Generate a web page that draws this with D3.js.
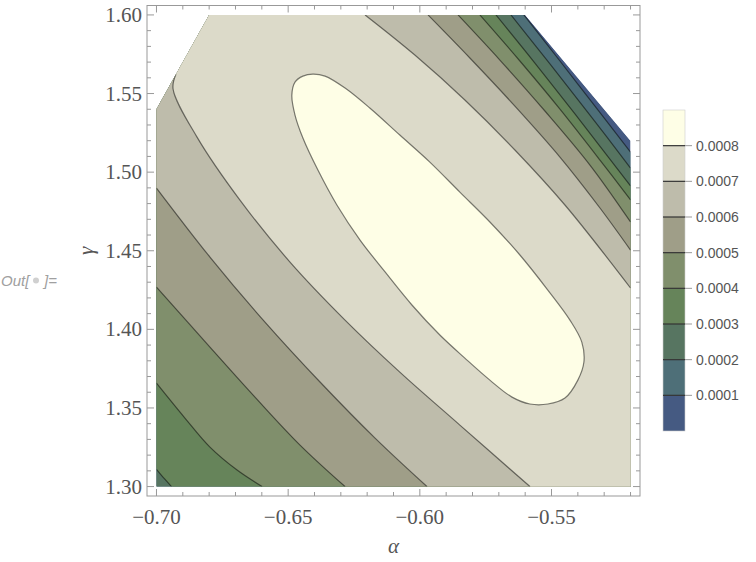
<!DOCTYPE html>
<html>
<head>
<meta charset="utf-8">
<script src="https://cdn.jsdelivr.net/npm/d3@7"></script>
<style>
  body { margin: 0; background: #fff; }
  svg { display: block; }
</style>
</head>
<body>
<div id="chart"></div>
<script>
// Contour levels and the colour of each band (below first level ... above last level)
const levels = [0.0001, 0.0002, 0.0003, 0.0004, 0.0005, 0.0006, 0.0007, 0.0008];
const bandColors = ['#455a82', '#4e6f78', '#577561', '#66845a', '#808f6c',
                    '#9f9e88', '#bebcab', '#dcdac9', '#fefee6'];

const xTicks = [-0.70, -0.65, -0.60, -0.55];
const yTicks = [1.30, 1.35, 1.40, 1.45, 1.50, 1.55, 1.60];

// Region where the function is defined (alpha, gamma)
const domainShape = [[-0.70, 1.30], [-0.52, 1.30], [-0.52, 1.52], [-0.56, 1.60], [-0.68, 1.60], [-0.70, 1.54]];

// Contour lines, [alpha, gamma]
// "lower" branches run from the top/left edge to the bottom edge,
// "upper" branches from the top edge to the right edge
const c1Upper = [[-0.5605, 1.60], [-0.5468, 1.5707], [-0.5335, 1.5420], [-0.52, 1.5128]];
const c2Upper = [[-0.5654, 1.60], [-0.5506, 1.5688], [-0.5354, 1.5363], [-0.52, 1.5026]];
const c3Upper = [[-0.5711, 1.60], [-0.5563, 1.5694], [-0.5411, 1.5370], [-0.52, 1.4912]];
const c3Lower = [[-0.70, 1.311], [-0.697, 1.305], [-0.6943, 1.30]];
const c4Upper = [[-0.5772, 1.60], [-0.5620, 1.5707], [-0.5468, 1.5401], [-0.5316, 1.5077], [-0.52, 1.4823]];
const c4Lower = [[-0.70, 1.3658], [-0.6892, 1.3436], [-0.6797, 1.3251], [-0.6694, 1.3105], [-0.6599, 1.30]];
const c5Upper = [[-0.5855, 1.60], [-0.5696, 1.5713], [-0.5525, 1.5389], [-0.5354, 1.5045], [-0.52, 1.4683]];
const c5Lower = [[-0.70, 1.4269], [-0.6797, 1.3887], [-0.6626, 1.3569], [-0.6455, 1.3264], [-0.6284, 1.30]];
const c6Upper = [[-0.5969, 1.60], [-0.5810, 1.5726], [-0.5639, 1.5420], [-0.5468, 1.5096], [-0.5316, 1.4772], [-0.52, 1.4504]];
const c6Lower = [[-0.70, 1.4899], [-0.6797, 1.4460], [-0.6588, 1.4046], [-0.6379, 1.3665], [-0.6170, 1.3308], [-0.5973, 1.30]];
const c7Upper = [[-0.6208, 1.60], [-0.6019, 1.5745], [-0.5829, 1.5459], [-0.5639, 1.5141], [-0.5449, 1.4791], [-0.52, 1.4263]];
const c7Lower = [[-0.6926, 1.5622], [-0.6937, 1.5529], [-0.6846, 1.5223], [-0.6683, 1.4822], [-0.6493, 1.4428],
                 [-0.6284, 1.4059], [-0.6076, 1.3728], [-0.5848, 1.3391], [-0.5582, 1.30]];
// closed ring of the highest level
const c8Ring = [[-0.6406, 1.5624], [-0.6360, 1.5611], [-0.6284, 1.5535], [-0.6190, 1.5408], [-0.6076, 1.5236],
                [-0.5962, 1.5064], [-0.5848, 1.4873], [-0.5734, 1.4683], [-0.5620, 1.4473], [-0.5514, 1.4250],
                [-0.5430, 1.4059], [-0.5385, 1.3919], [-0.5377, 1.3792], [-0.5400, 1.3677], [-0.5449, 1.3563],
                [-0.5514, 1.3525], [-0.5582, 1.3525], [-0.5650, 1.3569], [-0.5734, 1.3677], [-0.5829, 1.3817],
                [-0.5924, 1.3964], [-0.6030, 1.4155], [-0.6132, 1.4365], [-0.6227, 1.4568], [-0.6315, 1.4791],
                [-0.6387, 1.5013], [-0.6444, 1.5217], [-0.6474, 1.5363], [-0.6486, 1.5490], [-0.6474, 1.5573],
                [-0.6444, 1.5611]];

const contourLines = [
    { level: 0.0001, upper: c1Upper, lower: null },
    { level: 0.0002, upper: c2Upper, lower: null },
    { level: 0.0003, upper: c3Upper, lower: c3Lower },
    { level: 0.0004, upper: c4Upper, lower: c4Lower },
    { level: 0.0005, upper: c5Upper, lower: c5Lower },
    { level: 0.0006, upper: c6Upper, lower: c6Lower },
    { level: 0.0007, upper: c7Upper, lower: c7Lower }
];

const width = 756, height = 562;

const svg = d3.select('#chart')
    .append('svg')
    .attr('width', width)
    .attr('height', height);

// Scales (plot range padded like Mathematica)
const x = d3.scaleLinear().domain([-0.7036, -0.5164]).range([147, 640]);
const y = d3.scaleLinear().domain([1.294, 1.606]).range([496, 5.5]);

const line = d3.line().x(d => x(d[0])).y(d => y(d[1])).curve(d3.curveCatmullRom.alpha(0.5));
const ring = d3.line().x(d => x(d[0])).y(d => y(d[1])).curve(d3.curveCatmullRomClosed.alpha(0.5));
const poly = d3.line().x(d => x(d[0])).y(d => y(d[1]));

svg.append('clipPath')
    .attr('id', 'dom')
    .append('path')
    .attr('d', poly(domainShape) + 'Z');

const plot = svg.append('g').attr('clip-path', 'url(#dom)');

// base band
plot.append('path')
    .attr('d', poly(domainShape) + 'Z')
    .attr('fill', bandColors[0]);

// superlevel region of each level, drawn from low to high
const farTL = [x(-0.8), y(1.7)], farBL = [x(-0.8), y(1.2)], farBR = [x(-0.4), y(1.2)];
function bandPath(c) {
    let p = `M${farTL}`;
    if (c.lower) p += line(c.lower).replace(/^M/, 'L');
    else p += `L${farBL}`;
    p += `L${farBR}`;
    p += line(c.upper.slice().reverse()).replace(/^M/, 'L');
    return p + 'Z';
}

plot.selectAll('.band')
    .data(contourLines)
    .enter()
    .append('path')
    .attr('class', 'band')
    .attr('d', d => bandPath(d))
    .attr('fill', (d, i) => bandColors[i + 1]);

plot.append('path')
    .attr('d', ring(c8Ring))
    .attr('fill', bandColors[8]);

// contour lines
const strokes = [];
contourLines.forEach(c => {
    strokes.push(c.upper);
    if (c.lower) strokes.push(c.lower);
});

plot.selectAll('.cline')
    .data(strokes)
    .enter()
    .append('path')
    .attr('class', 'cline')
    .attr('d', d => line(d))
    .attr('fill', 'none')
    .attr('stroke', '#000')
    .attr('stroke-opacity', 0.5)
    .attr('stroke-width', 1.2);

plot.append('path')
    .attr('d', ring(c8Ring))
    .attr('fill', 'none')
    .attr('stroke', '#000')
    .attr('stroke-opacity', 0.5)
    .attr('stroke-width', 1.2);

// Frame and ticks
const [fx0, fx1] = x.range();
const [fy0, fy1] = y.range();
const frameColor = '#999';

svg.append('rect')
    .attr('x', fx0).attr('y', fy1)
    .attr('width', fx1 - fx0).attr('height', fy0 - fy1)
    .attr('fill', 'none')
    .attr('stroke', frameColor)
    .attr('stroke-width', 1);

const xMinor = d3.range(-0.70, -0.5165, 0.01);
const yMinor = d3.range(1.30, 1.6005, 0.01);
const isMajor = (v, ticks) => ticks.some(t => Math.abs(t - v) < 1e-6);

const tickG = svg.append('g').attr('stroke', frameColor).attr('stroke-width', 1);
xMinor.forEach(v => {
    const len = isMajor(v, xTicks) ? 7 : 4;
    tickG.append('line').attr('x1', x(v)).attr('x2', x(v)).attr('y1', fy0).attr('y2', fy0 - len);
    tickG.append('line').attr('x1', x(v)).attr('x2', x(v)).attr('y1', fy1).attr('y2', fy1 + len);
});
yMinor.forEach(v => {
    const len = isMajor(v, yTicks) ? 7 : 4;
    tickG.append('line').attr('y1', y(v)).attr('y2', y(v)).attr('x1', fx0).attr('x2', fx0 + len);
    tickG.append('line').attr('y1', y(v)).attr('y2', y(v)).attr('x1', fx1).attr('x2', fx1 - len);
});

const tickFont = '"Liberation Serif", "DejaVu Serif", serif';

svg.selectAll('.xlab')
    .data(xTicks)
    .enter()
    .append('text')
    .attr('x', d => x(d))
    .attr('y', 524)
    .attr('text-anchor', 'middle')
    .style('font-family', tickFont)
    .style('font-size', '21px')
    .attr('fill', '#555')
    .text(d => d3.format('.2f')(d));

svg.selectAll('.ylab')
    .data(yTicks)
    .enter()
    .append('text')
    .attr('x', 142)
    .attr('y', d => y(d) + 7)
    .attr('text-anchor', 'end')
    .style('font-family', tickFont)
    .style('font-size', '21px')
    .attr('fill', '#555')
    .text(d => d3.format('.2f')(d));

// Axis labels
svg.append('text')
    .attr('x', (fx0 + fx1) / 2)
    .attr('y', 553)
    .attr('text-anchor', 'middle')
    .style('font-family', tickFont)
    .style('font-style', 'italic')
    .style('font-size', '21px')
    .attr('fill', '#555')
    .text('α');

svg.append('text')
    .attr('transform', `translate(93,${(fy0 + fy1) / 2}) rotate(-90)`)
    .attr('text-anchor', 'middle')
    .style('font-family', tickFont)
    .style('font-style', 'italic')
    .style('font-size', '21px')
    .attr('fill', '#555')
    .text('γ');

// Legend
const legendY = d3.scaleLinear().domain([0, 0.0009]).range([431, 110]);
const lg = svg.append('g');
const bandEdges = [0].concat(levels, [0.0009]);

lg.selectAll('rect')
    .data(bandColors)
    .enter()
    .append('rect')
    .attr('x', 663)
    .attr('width', 22)
    .attr('y', (d, i) => legendY(bandEdges[i + 1]))
    .attr('height', (d, i) => legendY(bandEdges[i]) - legendY(bandEdges[i + 1]))
    .attr('fill', d => d);

lg.append('rect')
    .attr('x', 663).attr('y', 110)
    .attr('width', 22).attr('height', 321)
    .attr('fill', 'none')
    .attr('stroke', '#ccc')
    .attr('stroke-width', 0.6);

lg.selectAll('.sep')
    .data(levels)
    .enter()
    .append('line')
    .attr('x1', 663).attr('x2', 685)
    .attr('y1', d => legendY(d)).attr('y2', d => legendY(d))
    .attr('stroke', '#333')
    .attr('stroke-width', 1.2);

lg.selectAll('.tk')
    .data(levels)
    .enter()
    .append('line')
    .attr('x1', 685).attr('x2', 692)
    .attr('y1', d => legendY(d)).attr('y2', d => legendY(d))
    .attr('stroke', '#999')
    .attr('stroke-width', 1);

lg.selectAll('.lt')
    .data(levels)
    .enter()
    .append('text')
    .attr('x', 696)
    .attr('y', d => legendY(d) + 5)
    .style('font-family', '"Liberation Sans", Arial, sans-serif')
    .style('font-size', '14px')
    .attr('fill', '#555')
    .text(d => d3.format('.4f')(d));

// Notebook output label
const outG = svg.append('g')
    .style('font-family', '"Liberation Sans", Arial, sans-serif')
    .style('font-style', 'italic')
    .style('font-size', '15px')
    .attr('fill', '#a0a0a0');
outG.append('text').attr('x', 1).attr('y', 285.5).text('Out[');
outG.append('circle').attr('cx', 36).attr('cy', 280.5).attr('r', 3).attr('fill', '#d0d0d0');
outG.append('text').attr('x', 44).attr('y', 285.5).text(']=');
</script>
</body>
</html>
